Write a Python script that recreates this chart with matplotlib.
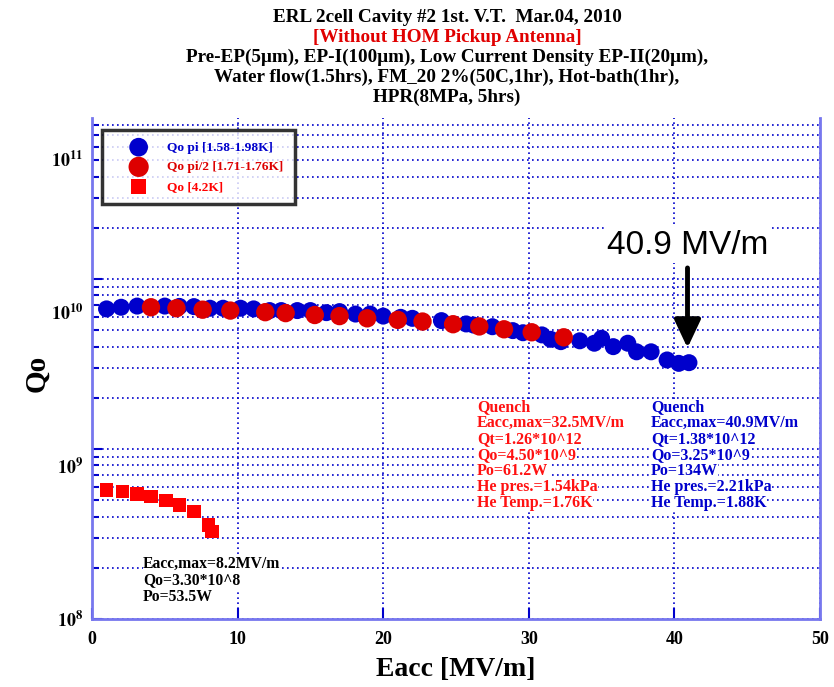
import numpy as np
import matplotlib
matplotlib.use("Agg")
import matplotlib.pyplot as plt
from matplotlib.ticker import LogLocator, NullFormatter, FixedLocator

plt.rcParams['font.family'] = ['Liberation Serif', 'DejaVu Serif']
plt.rcParams['mathtext.fontset'] = 'stix'

# Qo pi [1.58-1.98K]
eacc_pi = [1.0, 2.0, 3.1, 5.0, 6.0, 7.0, 8.1, 9.0, 10.2, 11.1, 12.2, 13.0,
           14.1, 15.0, 16.1, 17.0, 18.1, 19.1, 20.0, 21.2, 22.0, 24.0, 25.7,
           26.2, 27.5, 28.9, 29.6, 30.9, 31.5, 32.2, 33.5, 34.5, 35.0, 35.8,
           36.8, 37.4, 38.4, 39.5, 40.3, 41.0]
qo_pi = [6.67e9, 6.82e9, 6.93e9, 6.93e9, 6.9e9, 6.88e9, 6.73e9, 6.73e9, 6.73e9,
         6.67e9, 6.52e9, 6.52e9, 6.52e9, 6.52e9, 6.34e9, 6.43e9, 6.22e9, 6.22e9,
         6.05e9, 5.95e9, 5.87e9, 5.69e9, 5.44e9, 5.36e9, 5.24e9, 4.97e9, 4.83e9,
         4.69e9, 4.42e9, 4.28e9, 4.33e9, 4.19e9, 4.48e9, 4.0e9, 4.19e9, 3.73e9,
         3.73e9, 3.34e9, 3.19e9, 3.22e9]

# Qo pi/2 [1.71-1.76K]
eacc_pi2 = [4.05, 5.8, 7.6, 9.5, 11.9, 13.3, 15.3, 17.0, 18.9, 21.0, 22.7,
            24.8, 26.6, 28.3, 30.2, 32.4]
qo_pi2 = [6.82e9, 6.73e9, 6.6e9, 6.52e9, 6.38e9, 6.3e9, 6.14e9, 6.05e9, 5.87e9,
          5.75e9, 5.62e9, 5.42e9, 5.26e9, 5.06e9, 4.86e9, 4.54e9]

# Qo [4.2K]
eacc_42 = [1.0, 2.1, 3.1, 4.05, 5.1, 6.0, 7.0, 8.0, 8.25]
qo_42 = [5.74e8, 5.61e8, 5.43e8, 5.24e8, 4.97e8, 4.69e8, 4.28e8, 3.57e8, 3.27e8]

x_ticks = [0, 10, 20, 30, 40, 50]
y_label_ticks = [1e8, 1e9, 1e10, 1e11]

title_lines = ["ERL 2cell Cavity #2 1st. V.T.  Mar.04, 2010",
               "[Without HOM Pickup Antenna]",
               "Pre-EP(5\u03bcm), EP-I(100\u03bcm), Low Current Density EP-II(20\u03bcm),",
               "Water flow(1.5hrs), FM_20 2%(50C,1hr), Hot-bath(1hr),",
               "HPR(8MPa, 5hrs)"]
title_colors = ["black", "#e00000", "black", "black", "black"]

red_note = ["Quench", "Eacc,max=32.5MV/m", "Qt=1.26*10^12", "Qo=4.50*10^9",
            "Po=61.2W", "He pres.=1.54kPa", "He Temp.=1.76K"]
blue_note = ["Quench", "Eacc,max=40.9MV/m", "Qt=1.38*10^12", "Qo=3.25*10^9",
             "Po=134W", "He pres.=2.21kPa", "He Temp.=1.88K"]
black_note = ["Eacc,max=8.2MV/m", "Qo=3.30*10^8", "Po=53.5W"]

BLUE = "#0000cc"
RED = "#dd0000"
SPINE = "#7777ee"

W, H = 834, 687
fig = plt.figure(figsize=(W / 100, H / 100), dpi=100)

def fx(px):
    return px / W

def fy(py):
    return 1 - py / H

left, right, bottom, top = 92, 820, 619, 118
ax = fig.add_axes([fx(left), fy(bottom), fx(right - left), fy(top) - fy(bottom)])
ax.set_yscale('log')
ax.set_xlim(0, 50)
ax.set_ylim(1e8, 10 ** (10 + (279 - top) / 170))

ax.scatter(eacc_pi, qo_pi, s=150, color=BLUE, edgecolors='none', zorder=3,
           label="Qo pi [1.58-1.98K]")
ax.scatter(eacc_pi2, qo_pi2, s=175, color=RED, edgecolors='none', zorder=4,
           label="Qo pi/2 [1.71-1.76K]")
ax.scatter(eacc_42, qo_42, s=95, marker='s', color='#ff0000', edgecolors='none',
           zorder=4, label="Qo [4.2K]")

ax.xaxis.set_major_locator(FixedLocator(x_ticks))
ax.yaxis.set_major_locator(LogLocator(base=10, numticks=10))
ax.yaxis.set_minor_locator(LogLocator(base=10, subs=np.arange(2, 10), numticks=20))
ax.yaxis.set_major_formatter(NullFormatter())
ax.yaxis.set_minor_formatter(NullFormatter())
ax.set_xticklabels([str(v) for v in x_ticks], fontsize=13, fontweight='bold')
ax.tick_params(axis='both', which='both', direction='in', color=BLUE, width=1.5)
ax.tick_params(axis='y', which='major', length=7)
ax.tick_params(axis='y', which='minor', length=5)
ax.tick_params(axis='x', length=8, pad=9)
ax.grid(True, which='major', axis='x', color=BLUE, linestyle=(0, (1, 2)), linewidth=1.2)
ax.grid(True, which='both', axis='y', color=BLUE, linestyle=(0, (1, 2)), linewidth=1.2)
for sp in ax.spines.values():
    sp.set_color(SPINE)
    sp.set_linewidth(2)
ax.spines['top'].set_visible(False)

# y tick labels as drawn on the reference (decades spaced over the visible frame)
lab = fig.add_axes([fx(left), fy(bottom), fx(right - left), fy(159) - fy(bottom)],
                   frameon=False)
lab.set_yscale('log')
lab.set_ylim(1e8, 1e11)
lab.set_xticks([])
lab.yaxis.set_major_locator(FixedLocator(y_label_ticks))
lab.yaxis.set_minor_locator(FixedLocator([]))
lab.set_yticklabels([r'$\mathbf{10^{%d}}$' % int(np.log10(v)) for v in y_label_ticks],
                    fontsize=13)
lab.tick_params(axis='y', length=0, pad=6)
lab.patch.set_alpha(0)

ax.set_xlabel("Eacc [MV/m]", fontsize=20, fontweight='bold', labelpad=6)
fig.text(fx(37), fy(373), "Qo", rotation=90, fontsize=21, fontweight='bold',
         ha='center', va='center')

leg = ax.legend(loc='upper left', bbox_to_anchor=(0.0137, 0.976), frameon=True,
                fancybox=False, shadow=False, prop={'weight': 'bold', 'size': 9.6},
                handletextpad=0.25, borderpad=0.85, labelspacing=0.55,
                handlelength=3.8, scatterpoints=1, borderaxespad=0,
                markerscale=1.1)
leg.get_frame().set_edgecolor('black')
leg.get_frame().set_linewidth(2.5)
leg.set_zorder(10)
for t, c in zip(leg.get_texts(), [BLUE, RED, '#ff0000']):
    t.set_color(c)

# title block
for i, (line, c) in enumerate(zip(title_lines, title_colors)):
    fig.text(fx(447), fy(17 + i * 20.2), line, color=c, fontsize=13.8,
             fontweight='bold', ha='center', va='center')

box = dict(facecolor='white', edgecolor='none', pad=0.3)
for i, line in enumerate(red_note):
    fig.text(fx(477), fy(407 + i * 16), line, color='#ff1111', fontsize=11.5,
             fontweight='bold', va='center', ha='left', bbox=box)
for i, line in enumerate(blue_note):
    fig.text(fx(651), fy(407 + i * 16), line, color=BLUE, fontsize=11.5,
             fontweight='bold', va='center', ha='left', bbox=box)
for i, line in enumerate(black_note):
    fig.text(fx(143), fy(564 + i * 16.5), line, color='black', fontsize=11.3,
             fontweight='bold', va='center', ha='left', bbox=box)

ax.text(40.9, 10 ** 10.2, "40.9 MV/m", fontsize=24, family='Liberation Sans',
        ha='center', va='center', zorder=6,
        bbox=dict(facecolor='white', edgecolor='none', pad=2))
ax.annotate("", xy=(40.9, 3.93e9), xytext=(40.9, 10 ** 10.065),
            arrowprops=dict(arrowstyle='-|>,head_width=0.8,head_length=1.7',
                            color='black', lw=3.5, shrinkA=0, shrinkB=0), zorder=6)

fig.savefig("out.png", dpi=100)
